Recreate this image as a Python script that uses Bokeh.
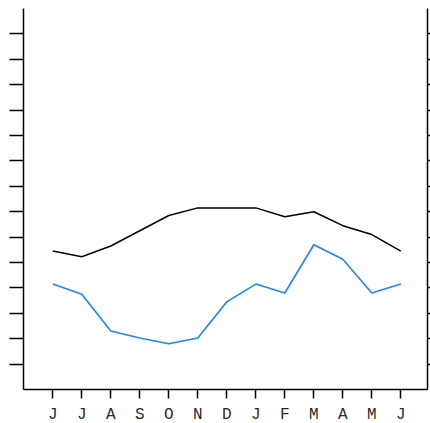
from bokeh.plotting import figure
from bokeh.models import Range1d, FixedTicker, LinearAxis, CustomLabelingPolicy
from bokeh.embed import file_html
from bokeh.resources import INLINE

months = ["J", "J", "A", "S", "O", "N", "D", "J", "F", "M", "A", "M", "J"]
x_idx = list(range(len(months)))
black_series = [10.9, 10.45, 11.3, 12.5, 13.7, 14.3, 14.3, 14.3, 13.6, 14.0, 12.9, 12.2, 10.9]
blue_series = [8.3, 7.5, 4.6, 4.05, 3.6, 4.05, 6.9, 8.3, 7.6, 11.4, 10.25, 7.6, 8.3]
y_ticks = list(range(2, 30, 2))

p = figure(width=430, height=426, output_backend="svg", toolbar_location=None,
           x_range=Range1d(-1.01, 12.92), y_range=Range1d(0, 30),
           min_border_left=23, min_border_right=3, min_border_top=8, min_border_bottom=0)
p.outline_line_color = None
p.xgrid.visible = False
p.ygrid.visible = False

p.line(x_idx, black_series, line_color="black", line_width=1.5)
p.line(x_idx, blue_series, line_color="#1A85FF", line_width=1.6)

xa = p.xaxis[0]
xa.ticker = FixedTicker(ticks=x_idx)
xa.major_label_overrides = {i: m for i, m in enumerate(months)}
xa.major_label_text_font = "Liberation Mono"
xa.major_label_text_font_size = "16px"
xa.major_label_text_color = "#2a2a2a"
xa.major_label_standoff = 7
xa.major_tick_out = 9
xa.major_tick_in = 0
xa.minor_tick_out = 0
xa.minor_tick_in = 0
xa.axis_line_width = 1.5
xa.major_tick_line_width = 1.5


def silent_axis(ax, ticks, tick_out):
    ax.ticker = FixedTicker(ticks=ticks)
    ax.major_label_policy = CustomLabelingPolicy(code="""
        for (const i of indices) { indices.unset(i) }
    """)
    ax.major_label_text_font_size = "0px"
    ax.major_label_standoff = 0
    ax.major_tick_out = tick_out
    ax.major_tick_in = 0
    ax.minor_tick_out = 0
    ax.minor_tick_in = 0
    ax.axis_line_width = 1.5
    ax.major_tick_line_width = 1.5


silent_axis(p.yaxis[0], y_ticks, 14)
ra = LinearAxis()
silent_axis(ra, y_ticks, 3)
p.add_layout(ra, "right")

open("out.html", "w").write(file_html(p, INLINE))
